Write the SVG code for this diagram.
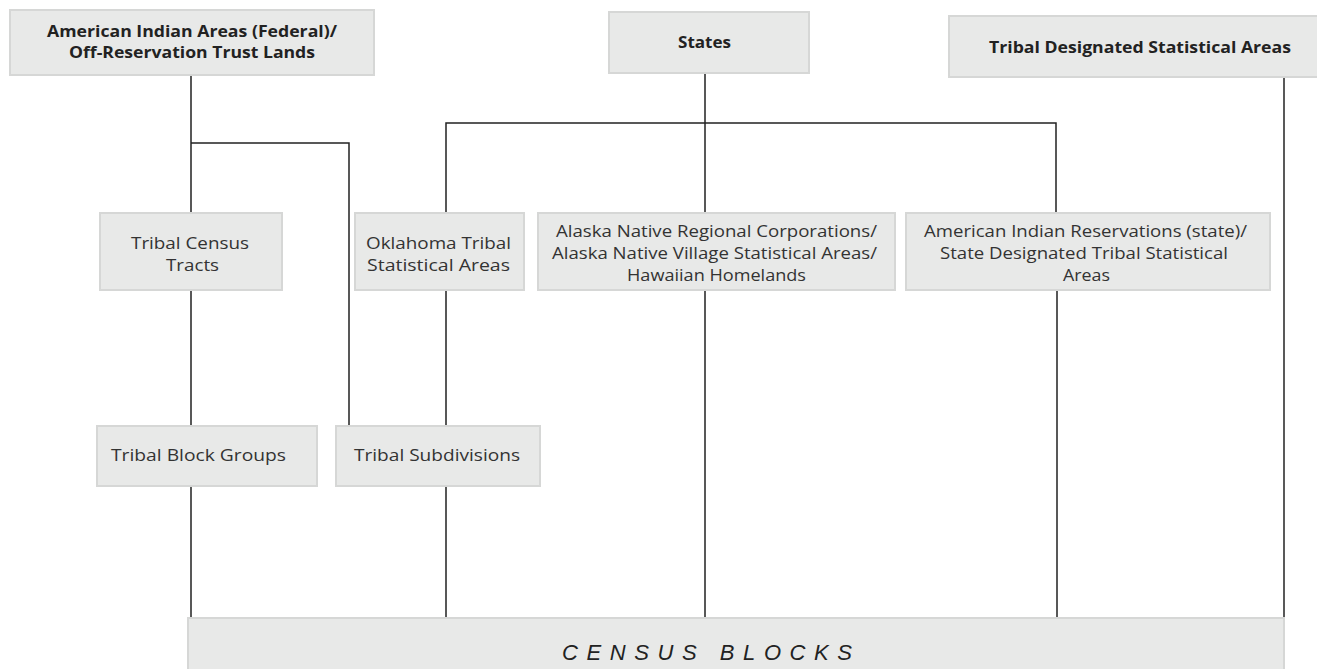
<svg xmlns="http://www.w3.org/2000/svg" width="1317" height="669" viewBox="0 0 1317 669">
<style>
.box{fill:#e8e9e8;stroke:#d6d7d6;stroke-width:2}
.t{font-family:"Open Sans","Liberation Sans",sans-serif;font-size:16.5px;fill:#333}
.b{font-family:"Open Sans","Liberation Sans",sans-serif;font-size:15.5px;font-weight:bold;fill:#222}
.c{font-family:"Liberation Sans",sans-serif;font-size:22px;font-style:italic;fill:#222}
.ln{stroke:#222;stroke-width:1.5;fill:none}
</style>
<rect width="1317" height="669" fill="#fff"/>
<g id="connectors">
<path class="ln" d="M191 75V212M191 143H349V427M191 291V425M191 486V619"/>
<path class="ln" d="M705 73V213M446 212V123H1056V212M446 291V426M446 486V619M705 290V619M1057 290V619"/>
<path class="ln" d="M1284 77V619"/>
</g>
<g id="n-aia-federal"><rect class="box" x="10" y="10" width="364" height="65"/>
<text class="b" x="47" y="37" textLength="290" lengthAdjust="spacingAndGlyphs">American Indian Areas (Federal)/</text>
<text class="b" x="69" y="58" textLength="246" lengthAdjust="spacingAndGlyphs">Off-Reservation Trust Lands</text></g>
<g id="n-states"><rect class="box" x="609" y="12" width="200" height="61"/>
<text class="b" x="678" y="48" textLength="53" lengthAdjust="spacingAndGlyphs">States</text></g>
<g id="n-tdsa"><rect class="box" x="949" y="16" width="380" height="61"/>
<text class="b" x="989" y="53" textLength="302" lengthAdjust="spacingAndGlyphs">Tribal Designated Statistical Areas</text></g>
<g id="n-tct"><rect class="box" x="100" y="213" width="182" height="77"/>
<text class="t" x="131" y="249" textLength="118" lengthAdjust="spacingAndGlyphs">Tribal Census</text>
<text class="t" x="166" y="271" textLength="53" lengthAdjust="spacingAndGlyphs">Tracts</text></g>
<g id="n-otsa"><rect class="box" x="355" y="213" width="169" height="77"/>
<text class="t" x="366" y="249" textLength="145" lengthAdjust="spacingAndGlyphs">Oklahoma Tribal</text>
<text class="t" x="367" y="271" textLength="143" lengthAdjust="spacingAndGlyphs">Statistical Areas</text></g>
<g id="n-alaska"><rect class="box" x="538" y="213" width="357" height="77"/>
<text class="t" x="556" y="237" textLength="321" lengthAdjust="spacingAndGlyphs">Alaska Native Regional Corporations/</text>
<text class="t" x="552" y="259" textLength="325" lengthAdjust="spacingAndGlyphs">Alaska Native Village Statistical Areas/</text>
<text class="t" x="627" y="281" textLength="179" lengthAdjust="spacingAndGlyphs">Hawaiian Homelands</text></g>
<g id="n-air-state"><rect class="box" x="906" y="213" width="364" height="77"/>
<text class="t" x="924" y="237" textLength="323" lengthAdjust="spacingAndGlyphs">American Indian Reservations (state)/</text>
<text class="t" x="940" y="259" textLength="288" lengthAdjust="spacingAndGlyphs">State Designated Tribal Statistical</text>
<text class="t" x="1063" y="281" textLength="47" lengthAdjust="spacingAndGlyphs">Areas</text></g>
<g id="n-tbg"><rect class="box" x="97" y="426" width="220" height="60"/>
<text class="t" x="111" y="461" textLength="175" lengthAdjust="spacingAndGlyphs">Tribal Block Groups</text></g>
<g id="n-tsub"><rect class="box" x="336" y="426" width="204" height="60"/>
<text class="t" x="354" y="461" textLength="166" lengthAdjust="spacingAndGlyphs">Tribal Subdivisions</text></g>
<g id="n-blocks"><rect class="box" x="188" y="618" width="1096" height="60"/>
<text class="c" x="562" y="660" textLength="290" lengthAdjust="spacing">CENSUS BLOCKS</text></g>
</svg>
